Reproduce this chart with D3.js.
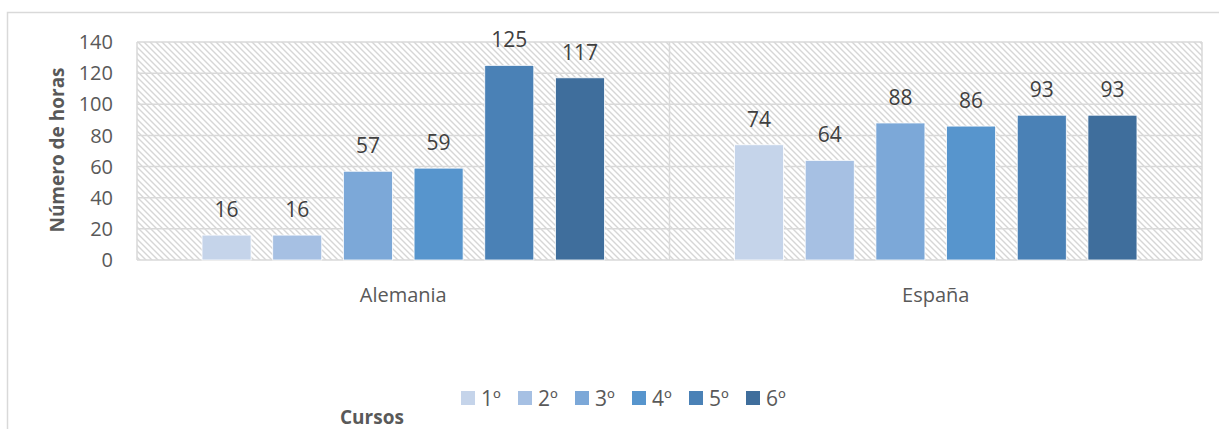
<!DOCTYPE html>
<html>
<head>
<meta charset="utf-8">
<script src="https://cdn.jsdelivr.net/npm/d3@7"></script>
<style>
    body { margin: 0; background: #fff; }
    text { font-family: "Open Sans", "Noto Sans", sans-serif; }
</style>
</head>
<body>
<div id="chart"></div>
<script>
// Data
const paises = ['Alemania', 'España'];
const cursos = ['1º', '2º', '3º', '4º', '5º', '6º'];
const horasAlemania = [16, 16, 57, 59, 125, 117];
const horasEspana = [74, 64, 88, 86, 93, 93];
const yTicks = [0, 20, 40, 60, 80, 100, 120, 140];
const colores = ['#c5d4ea', '#a6c0e3', '#7ca8d8', '#5795cd', '#4a81b6', '#3f6e9c'];

const width = 1219;
const height = 429;
const margin = {top: 42, right: 17, bottom: 169, left: 137};

const svg = d3.select('#chart')
    .append('svg')
    .attr('width', width)
    .attr('height', height);

// Chart frame (only top and left edges are visible)
svg.append('rect')
    .attr('x', 7.5)
    .attr('y', 12.5)
    .attr('width', width + 20)
    .attr('height', height + 20)
    .attr('fill', 'none')
    .attr('stroke', '#d9d9d9')
    .attr('stroke-width', 1.5);

// Hatch pattern for plot area
const pattern = svg.append('defs')
    .append('pattern')
    .attr('id', 'hatch')
    .attr('patternUnits', 'userSpaceOnUse')
    .attr('width', 6)
    .attr('height', 6);
pattern.append('path')
    .attr('d', 'M-1,-1 L7,7 M-1,5 L1,7 M5,-1 L7,1')
    .attr('stroke', '#d6d6d6')
    .attr('stroke-width', 1.4);

const x0 = d3.scaleBand()
    .domain(paises)
    .range([margin.left, width - margin.right]);

const x1 = d3.scaleBand()
    .domain(cursos)
    .range([0, x0.bandwidth()])
    .paddingInner(0.306)
    .paddingOuter(0.92);

const y = d3.scaleLinear()
    .domain([0, 140])
    .range([height - margin.bottom, margin.top]);

const plotW = width - margin.right - margin.left;
const plotH = height - margin.bottom - margin.top;

svg.append('rect')
    .attr('x', margin.left)
    .attr('y', margin.top)
    .attr('width', plotW)
    .attr('height', plotH)
    .attr('fill', 'url(#hatch)');

// Gridlines
svg.append('g')
    .selectAll('line')
    .data(yTicks)
    .enter()
    .append('line')
    .attr('x1', margin.left)
    .attr('x2', width - margin.right)
    .attr('y1', d => y(d))
    .attr('y2', d => y(d))
    .attr('stroke', '#d9d9d9')
    .attr('stroke-width', 1.5);

// Category dividers and plot border
const dividers = [margin.left, ...paises.map(p => x0(p) + x0.bandwidth())];
svg.append('g')
    .selectAll('line')
    .data(dividers)
    .enter()
    .append('line')
    .attr('x1', d => d)
    .attr('x2', d => d)
    .attr('y1', margin.top)
    .attr('y2', height - margin.bottom)
    .attr('stroke', '#d9d9d9')
    .attr('stroke-width', 1.5);

// Y tick labels
svg.append('g')
    .selectAll('text')
    .data(yTicks)
    .enter()
    .append('text')
    .attr('x', 113)
    .attr('y', d => y(d))
    .attr('dy', '0.36em')
    .attr('text-anchor', 'end')
    .attr('font-size', 20)
    .attr('fill', '#595959')
    .text(d => d);

// Bars
const tabla = paises.map((p, i) => ({
    pais: p,
    valores: (i === 0 ? horasAlemania : horasEspana).map((v, j) => ({curso: cursos[j], valor: v, color: colores[j]}))
}));

const grupos = svg.append('g')
    .selectAll('g')
    .data(tabla)
    .enter()
    .append('g')
    .attr('transform', d => `translate(${x0(d.pais)},0)`);

grupos.selectAll('rect')
    .data(d => d.valores)
    .enter()
    .append('rect')
    .attr('x', d => x1(d.curso))
    .attr('y', d => y(d.valor))
    .attr('width', x1.bandwidth())
    .attr('height', d => y(0) - y(d.valor))
    .attr('fill', d => d.color)
    .attr('stroke', '#fff')
    .attr('stroke-width', 0.8);

grupos.selectAll('text')
    .data(d => d.valores)
    .enter()
    .append('text')
    .attr('x', d => x1(d.curso) + x1.bandwidth() / 2)
    .attr('y', d => y(d.valor) - 18)
    .attr('text-anchor', 'middle')
    .attr('font-size', 21)
    .attr('fill', '#404040')
    .text(d => d.valor);

// Category labels
svg.append('g')
    .selectAll('text')
    .data(paises)
    .enter()
    .append('text')
    .attr('x', d => x0(d) + x0.bandwidth() / 2)
    .attr('y', 302)
    .attr('text-anchor', 'middle')
    .attr('font-size', 20)
    .attr('fill', '#595959')
    .text(d => d);

// Y axis title
svg.append('text')
    .attr('transform', 'translate(64,150) rotate(-90)')
    .attr('text-anchor', 'middle')
    .attr('font-size', 19)
    .attr('font-weight', 'bold')
    .attr('fill', '#595959')
    .text('Número de horas');

// Legend
const legend = svg.append('g')
    .selectAll('g')
    .data(cursos)
    .enter()
    .append('g')
    .attr('transform', (d, i) => `translate(${461 + i * 57},391)`);

legend.append('rect')
    .attr('width', 14)
    .attr('height', 14)
    .attr('fill', (d, i) => colores[i]);

legend.append('text')
    .attr('x', 20)
    .attr('y', 7)
    .attr('dy', '0.36em')
    .attr('font-size', 21)
    .attr('fill', '#595959')
    .text(d => d);

// X axis title
svg.append('text')
    .attr('x', 340)
    .attr('y', 424)
    .attr('font-size', 19)
    .attr('font-weight', 'bold')
    .attr('fill', '#595959')
    .text('Cursos');
</script>
</body>
</html>
